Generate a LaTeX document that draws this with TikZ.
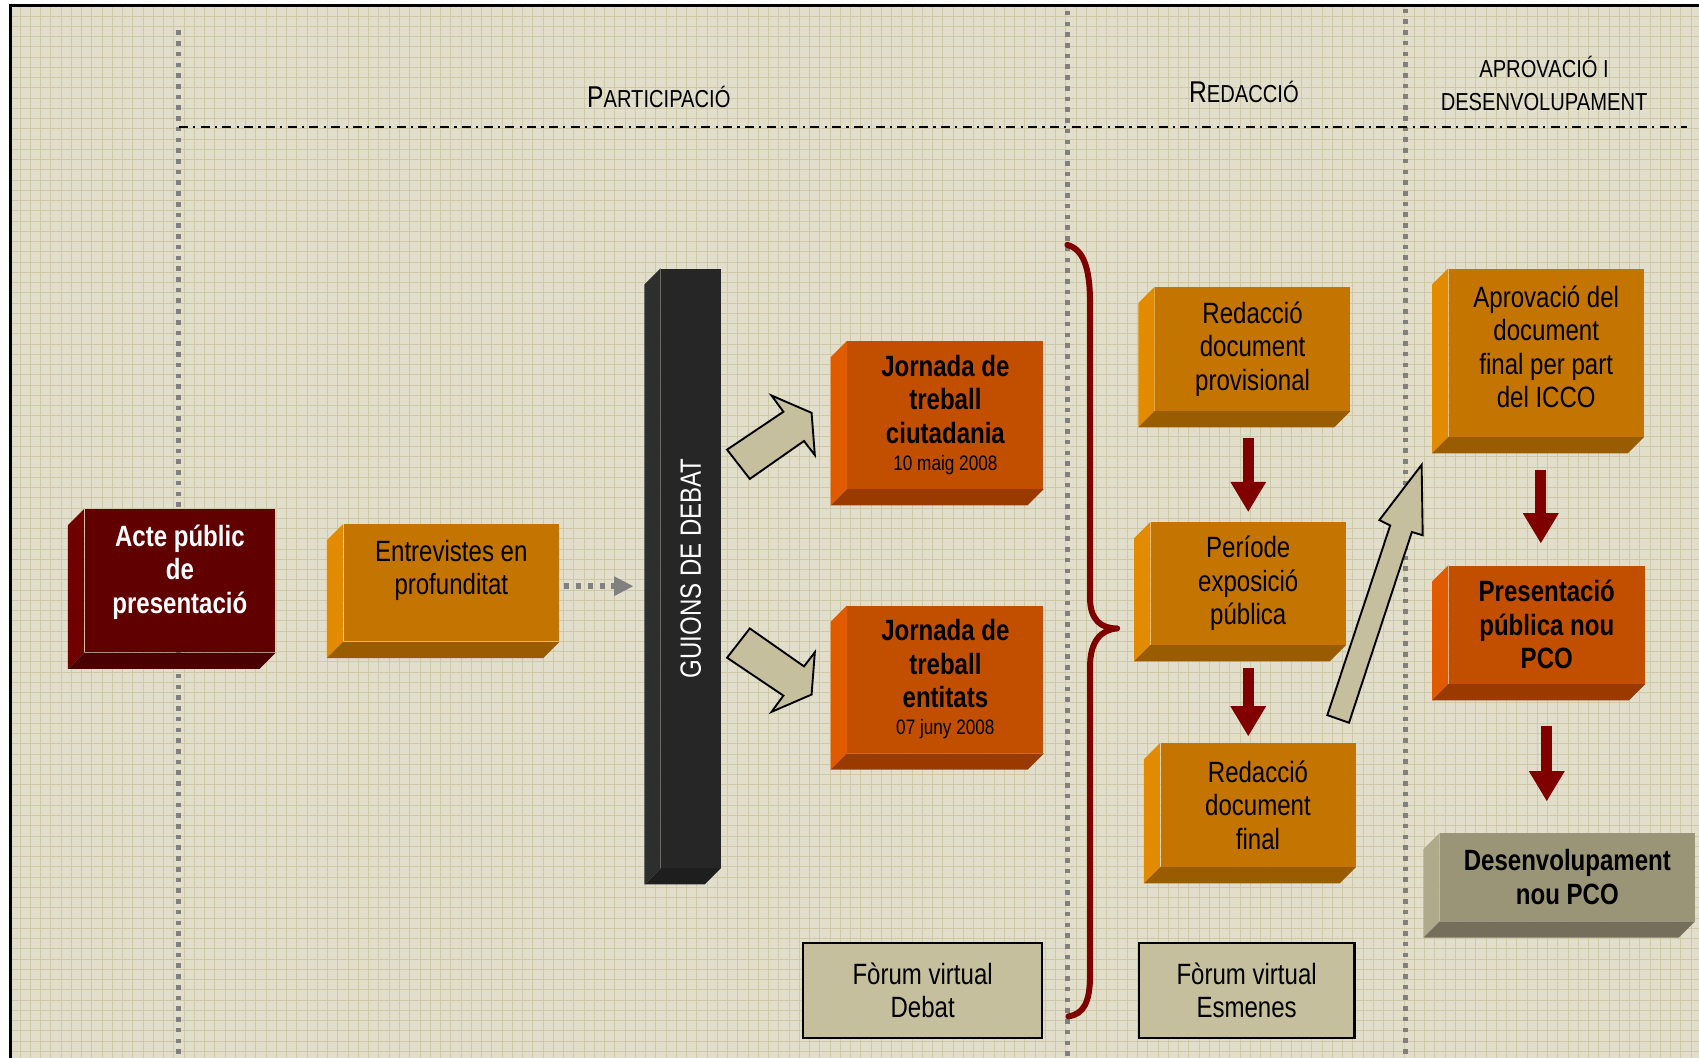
\documentclass[tikz,border=0pt]{standalone}
\usepackage{fontspec}
\usepackage{graphicx}
\setmainfont{Liberation Sans}[FakeStretch=0.82]
\usetikzlibrary{arrows.meta,calc}

\definecolor{paper}{RGB}{226,222,204}
\definecolor{gridc}{RGB}{207,201,168}
\definecolor{dotgray}{RGB}{128,128,128}
\definecolor{wine}{RGB}{128,0,0}
\definecolor{khaki}{RGB}{198,191,158}
% face / left bevel / bottom bevel
\definecolor{wnFace}{RGB}{96,0,0}\definecolor{wnLeft}{RGB}{112,0,0}\definecolor{wnBot}{RGB}{72,0,0}
\definecolor{orFace}{RGB}{196,116,0}\definecolor{orLeft}{RGB}{226,138,0}\definecolor{orBot}{RGB}{153,92,0}
\definecolor{roFace}{RGB}{194,78,0}\definecolor{roLeft}{RGB}{224,90,0}\definecolor{roBot}{RGB}{154,58,0}
\definecolor{bkFace}{RGB}{38,38,38}\definecolor{bkLeft}{RGB}{46,46,46}\definecolor{bkBot}{RGB}{30,30,30}
\definecolor{gyFace}{RGB}{155,149,120}\definecolor{gyLeft}{RGB}{176,170,140}\definecolor{gyBot}{RGB}{116,110,90}

\newcommand{\boxfont}{\fontsize{15.4}{17.6}\selectfont}
\newcommand{\datefont}{\fontsize{11}{12}\selectfont}
\newcommand{\scbig}{\fontsize{15.8}{17}\selectfont}
\newcommand{\scsmall}{\fontsize{12.9}{17.1}\selectfont}

% bevel strips on the left and bottom of a face node
\newcommand{\bvd}{0.3cm}
\newcommand{\bevelsides}[3]{%
  \fill[#2] (#1.north west) -- ++(-\bvd,-\bvd) -- ([xshift=-\bvd,yshift=-\bvd]#1.south west) -- (#1.south west) -- cycle;
  \fill[#3] (#1.south west) -- ++(-\bvd,-\bvd) -- ([xshift=-\bvd,yshift=-\bvd]#1.south east) -- (#1.south east) -- cycle;}

\tikzset{
  face/.style={rectangle, inner sep=0pt, align=center, font=\boxfont},
  winebox/.style={face, fill=wnFace, text=white, font=\boxfont\bfseries},
  orangebox/.style={face, fill=orFace},
  redbox/.style={face, fill=roFace, font=\boxfont\bfseries},
  blackbox/.style={face, fill=bkFace, text=white},
  greybox/.style={face, fill=gyFace, font=\boxfont\bfseries},
  forum/.style={face, fill=khaki, draw=black, line width=0.04cm},
  phase/.style={inner sep=0pt, align=center},
  gridline/.style={gridc, line width=0.018cm},
  sepline/.style={dotgray, line width=0.085cm, dash pattern=on 0.085cm off 0.113cm},
  phaseline/.style={black, line width=0.035cm, dash pattern=on 0.166cm off 0.098cm on 0.04cm off 0.098cm},
  redarrow/.style={wine, line width=0.2cm, -{Triangle[width=0.62cm,length=0.56cm]}},
  dotarrow/.style={dotgray, line width=0.1cm, dash pattern=on 0.1cm off 0.12cm, -{Triangle[width=0.34cm,length=0.36cm]}},
  blockarrow/.style={fill=khaki, draw=black, line width=0.035cm, line join=miter},
  brace/.style={wine, line width=0.11cm, line cap=round, line join=round},
}

\begin{document}
\begin{tikzpicture}[x=0.02cm, y=-0.02cm]
\useasboundingbox (0,0) rectangle (1568,976);
\fill[white] (0,0) rectangle (1568,976);
\fill[paper] (10,5) rectangle (1568,976);
\foreach \gx in {9.2,18.66,...,1568} \draw[gridline] (\gx,5) -- (\gx,976);
\foreach \gy in {14.8,24.26,...,976} \draw[gridline] (10,\gy) -- (1568,\gy);
\draw[line width=0.05cm] (10,976) -- (10,5) -- (1568,5);

% phases
\draw[sepline] (165,28) -- (165,976);
\draw[sepline] (985,10) -- (985,976);
\draw[sepline] (1297,8) -- (1297,976);
\draw[phaseline] (165,117) -- (1557,117);
\node[phase, anchor=base] (hpart) at (608,99) {\scbig P\scsmall ARTICIPACIÓ};
\node[phase, anchor=base] (hred) at (1148,95) {\scbig R\scsmall EDACCIÓ};
\node[phase, font=\scsmall] (haprov) at (1425,77) {APROVACIÓ I\\DESENVOLUPAMENT};

% participacio
\node[winebox, minimum width=3.52cm, minimum height=2.64cm] (acte) at (166,536) {Acte públic\\de\\presentació\\[-0.18cm]\mbox{}};
\bevelsides{acte}{wnLeft}{wnBot}
\node[orangebox, minimum width=3.98cm, minimum height=2.16cm] (entrev) at (416.5,538) {Entrevistes en\\profunditat\\[-0.04cm]\mbox{}};
\bevelsides{entrev}{orLeft}{orBot}
\node[blackbox, minimum width=1.1cm, minimum height=11.06cm] (guions) at (637.5,524.5) {\rotatebox{90}{GUIONS DE DEBAT}};
\bevelsides{guions}{bkLeft}{bkBot}
\node[redbox, minimum width=3.62cm, minimum height=2.72cm] (jciutat) at (872.5,383) {Jornada de\\treball\\ciutadania\\[-0.12cm]{\datefont\mdseries 10 maig 2008}};
\bevelsides{jciutat}{roLeft}{roBot}
\node[redbox, minimum width=3.62cm, minimum height=2.72cm] (jentitat) at (872.5,627) {Jornada de\\treball\\entitats\\[-0.12cm]{\datefont\mdseries 07 juny 2008}};
\bevelsides{jentitat}{roLeft}{roBot}
\node[forum, minimum width=4.42cm, minimum height=1.76cm] (fdebat) at (851.5,914) {Fòrum virtual\\Debat};

% redaccio
\node[orangebox, minimum width=3.6cm, minimum height=2.28cm] (rprov) at (1156,322) {Redacció\\document\\provisional};
\bevelsides{rprov}{orLeft}{orBot}
\node[orangebox, minimum width=3.6cm, minimum height=2.26cm] (expos) at (1152,538.5) {Període\\exposició\\pública};
\bevelsides{expos}{orLeft}{orBot}
\node[orangebox, minimum width=3.6cm, minimum height=2.28cm] (rfinal) at (1161,743) {Redacció\\document\\final};
\bevelsides{rfinal}{orLeft}{orBot}
\node[forum, minimum width=3.98cm, minimum height=1.76cm] (fesmen) at (1150.5,914) {Fòrum virtual\\Esmenes};

% aprovacio
\node[orangebox, minimum width=3.6cm, minimum height=3.1cm] (aprov) at (1427,325.5) {Aprovació del\\document\\final per part\\del ICCO\\[-0.4cm]\mbox{}};
\bevelsides{aprov}{orLeft}{orBot}
\node[redbox, minimum width=3.62cm, minimum height=2.18cm] (presen) at (1427.5,576.5) {Presentació\\pública nou\\PCO};
\bevelsides{presen}{roLeft}{roBot}
\node[greybox, minimum width=4.7cm, minimum height=1.62cm] (desenv) at (1446.5,809.5) {Desenvolupament\\nou PCO};
\bevelsides{desenv}{gyLeft}{gyBot}

% connectors
\draw[dotarrow, shorten <=0.08cm, shorten >=0.5cm] ([yshift=-0.06cm]entrev.east) -- ([yshift=-0.06cm]entrev.east -| guions.west);
\draw[redarrow, shorten <=0.5cm, shorten >=0.18cm] (rprov.south -| expos.north) -- (expos.north);
\draw[redarrow, shorten <=0.42cm, shorten >=0.12cm] (expos.south) -- (expos.south |- rfinal.north);
\draw[redarrow, shorten <=0.6cm, shorten >=0.4cm] ([xshift=-0.1cm]aprov.south) -- ([xshift=-0.1cm]aprov.south |- presen.north);
\draw[redarrow, shorten <=0.78cm, shorten >=0.58cm] (presen.south) -- (presen.south |- desenv.north);

% block arrows
\draw[blockarrow] (671,415) -- (723,380) -- (712,365) -- (749,381) -- (752,420) -- (742,407) -- (692,442) -- cycle;
\draw[blockarrow] (671,607) -- (723,642) -- (712,657) -- (749,641) -- (752,602) -- (742,615) -- (692,580) -- cycle;
\draw[blockarrow] (1225,660) -- (1283,485) -- (1273,480) -- (1312,429) -- (1313,494) -- (1303,491) -- (1245,667) -- cycle;

% brace
\draw[brace] (985,226) .. controls (999,230) and (1006,245) .. (1006,280) -- (1006,552)
  .. controls (1006,572) and (1016,580) .. (1031,580) .. controls (1016,581) and (1006,592) .. (1006,615)
  -- (1006,900) .. controls (1006,925) and (1000,936) .. (986,938);
\end{tikzpicture}
\end{document}
